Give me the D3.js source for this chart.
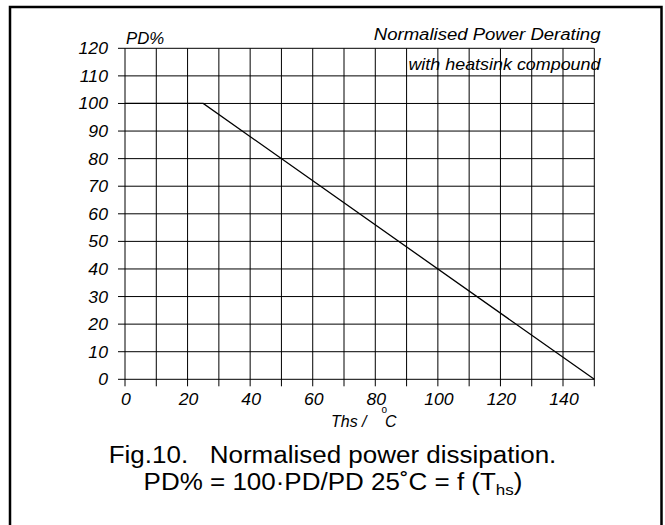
<!DOCTYPE html>
<html>
<head>
<meta charset="utf-8">
<script src="https://cdn.jsdelivr.net/npm/d3@7"></script>
<style>
  body { margin: 0; background: #fff; }
  svg text { font-family: "Liberation Sans", Arial, sans-serif; fill: #000; }
</style>
</head>
<body>
<svg width="665" height="525"></svg>
<script>
"use strict";

// Data.

var TempPoints = [0, 25, 150];
var PowerPoints = [100, 100, 0];
var XTicks = [0, 20, 40, 60, 80, 100, 120, 140];
var XGrid = d3.range(0, 151, 10);
var YTicks = [0, 10, 20, 30, 40, 50, 60, 70, 80, 90, 100, 110, 120];

// SVG.

var svg = d3.select("svg");

var Left = 125, Right = 594.3, Top = 48.3, Bottom = 379.3;
var TickLen = 7;
var LabelSize = 16.5;
var LabelStretch = 1.07;

var x = d3.scaleLinear().domain([0, 150]).range([Left, Right]);
var y = d3.scaleLinear().domain([0, 120]).range([Bottom, Top]);

// Text helper: the original lettering is a bit wider than Liberation Sans,
// so each text gets a horizontal stretch around its anchor point.
var Label = function(parent, str, px, py, size, anchor, italic, stretch){
    return parent.append("text")
        .attr("transform", "translate(" + px + "," + py + ") scale(" + (stretch || 1) + ",1)")
        .attr("text-anchor", anchor || "start")
        .attr("font-style", italic ? "italic" : "normal")
        .attr("font-size", size + "px")
        .text(str);
}

// Outer frame (open at the bottom).

svg.append("path")
    .attr("d", "M10,530 V7 H661.5 V530")
    .attr("fill", "none")
    .attr("stroke", "#000")
    .attr("stroke-width", 2.5);

// Grid.

svg.append("g").selectAll("line")
    .data(XGrid)
    .enter().append("line")
        .attr("x1", function(d){ return x(d); })
        .attr("x2", function(d){ return x(d); })
        .attr("y1", Top)
        .attr("y2", Bottom + TickLen)
        .attr("stroke", "#000")
        .attr("stroke-width", 1);

svg.append("g").selectAll("line")
    .data(YTicks)
    .enter().append("line")
        .attr("x1", Left - TickLen)
        .attr("x2", Right)
        .attr("y1", function(d){ return y(d); })
        .attr("y2", function(d){ return y(d); })
        .attr("stroke", "#000")
        .attr("stroke-width", 1);

// Tick labels.

var xl = svg.append("g");
XTicks.forEach(function(d){
    Label(xl, d, x(d) + 1, Bottom + 26, LabelSize, "middle", true, LabelStretch);
});

var yl = svg.append("g");
YTicks.forEach(function(d){
    Label(yl, d, Left - 17, y(d) + 6, LabelSize, "end", true, LabelStretch);
});

// Derating curve.

var line = d3.line()
    .x(function(d){ return x(d[0]); })
    .y(function(d){ return y(d[1]); });

svg.append("path")
    .datum(d3.zip(TempPoints, PowerPoints))
    .attr("d", line)
    .attr("fill", "none")
    .attr("stroke", "#000")
    .attr("stroke-width", 1.3);

// Labels.

Label(svg, "PD%", Left + 1, Top - 4, 16, "start", true, 1.05);
Label(svg, "Normalised Power Derating", 600.5, 40, 16, "end", true, 1.16);
Label(svg, "with heatsink compound", 600.5, 70, 16, "end", true, 1.12);

Label(svg, "Ths /", 331, 427, 16, "start", true, 1);
Label(svg, "o", 381.5, 413, 10, "start", false, 1);
Label(svg, "C", 385, 427, 16, "start", true, 1);

// Caption.

Label(svg, "Fig.10.\u00a0\u00a0\u00a0Normalised power dissipation.", 332.5, 463, 23, "middle", false, 1.13);

var cap = Label(svg, "", 333, 490, 23, "middle", false, 1.13);
cap.append("tspan").text("PD% = 100\u00b7PD/PD 25\u02daC = f (T");
cap.append("tspan").attr("font-size", "15px").attr("dy", 5).text("hs");
cap.append("tspan").attr("dy", -5).text(")");
</script>
</body>
</html>
